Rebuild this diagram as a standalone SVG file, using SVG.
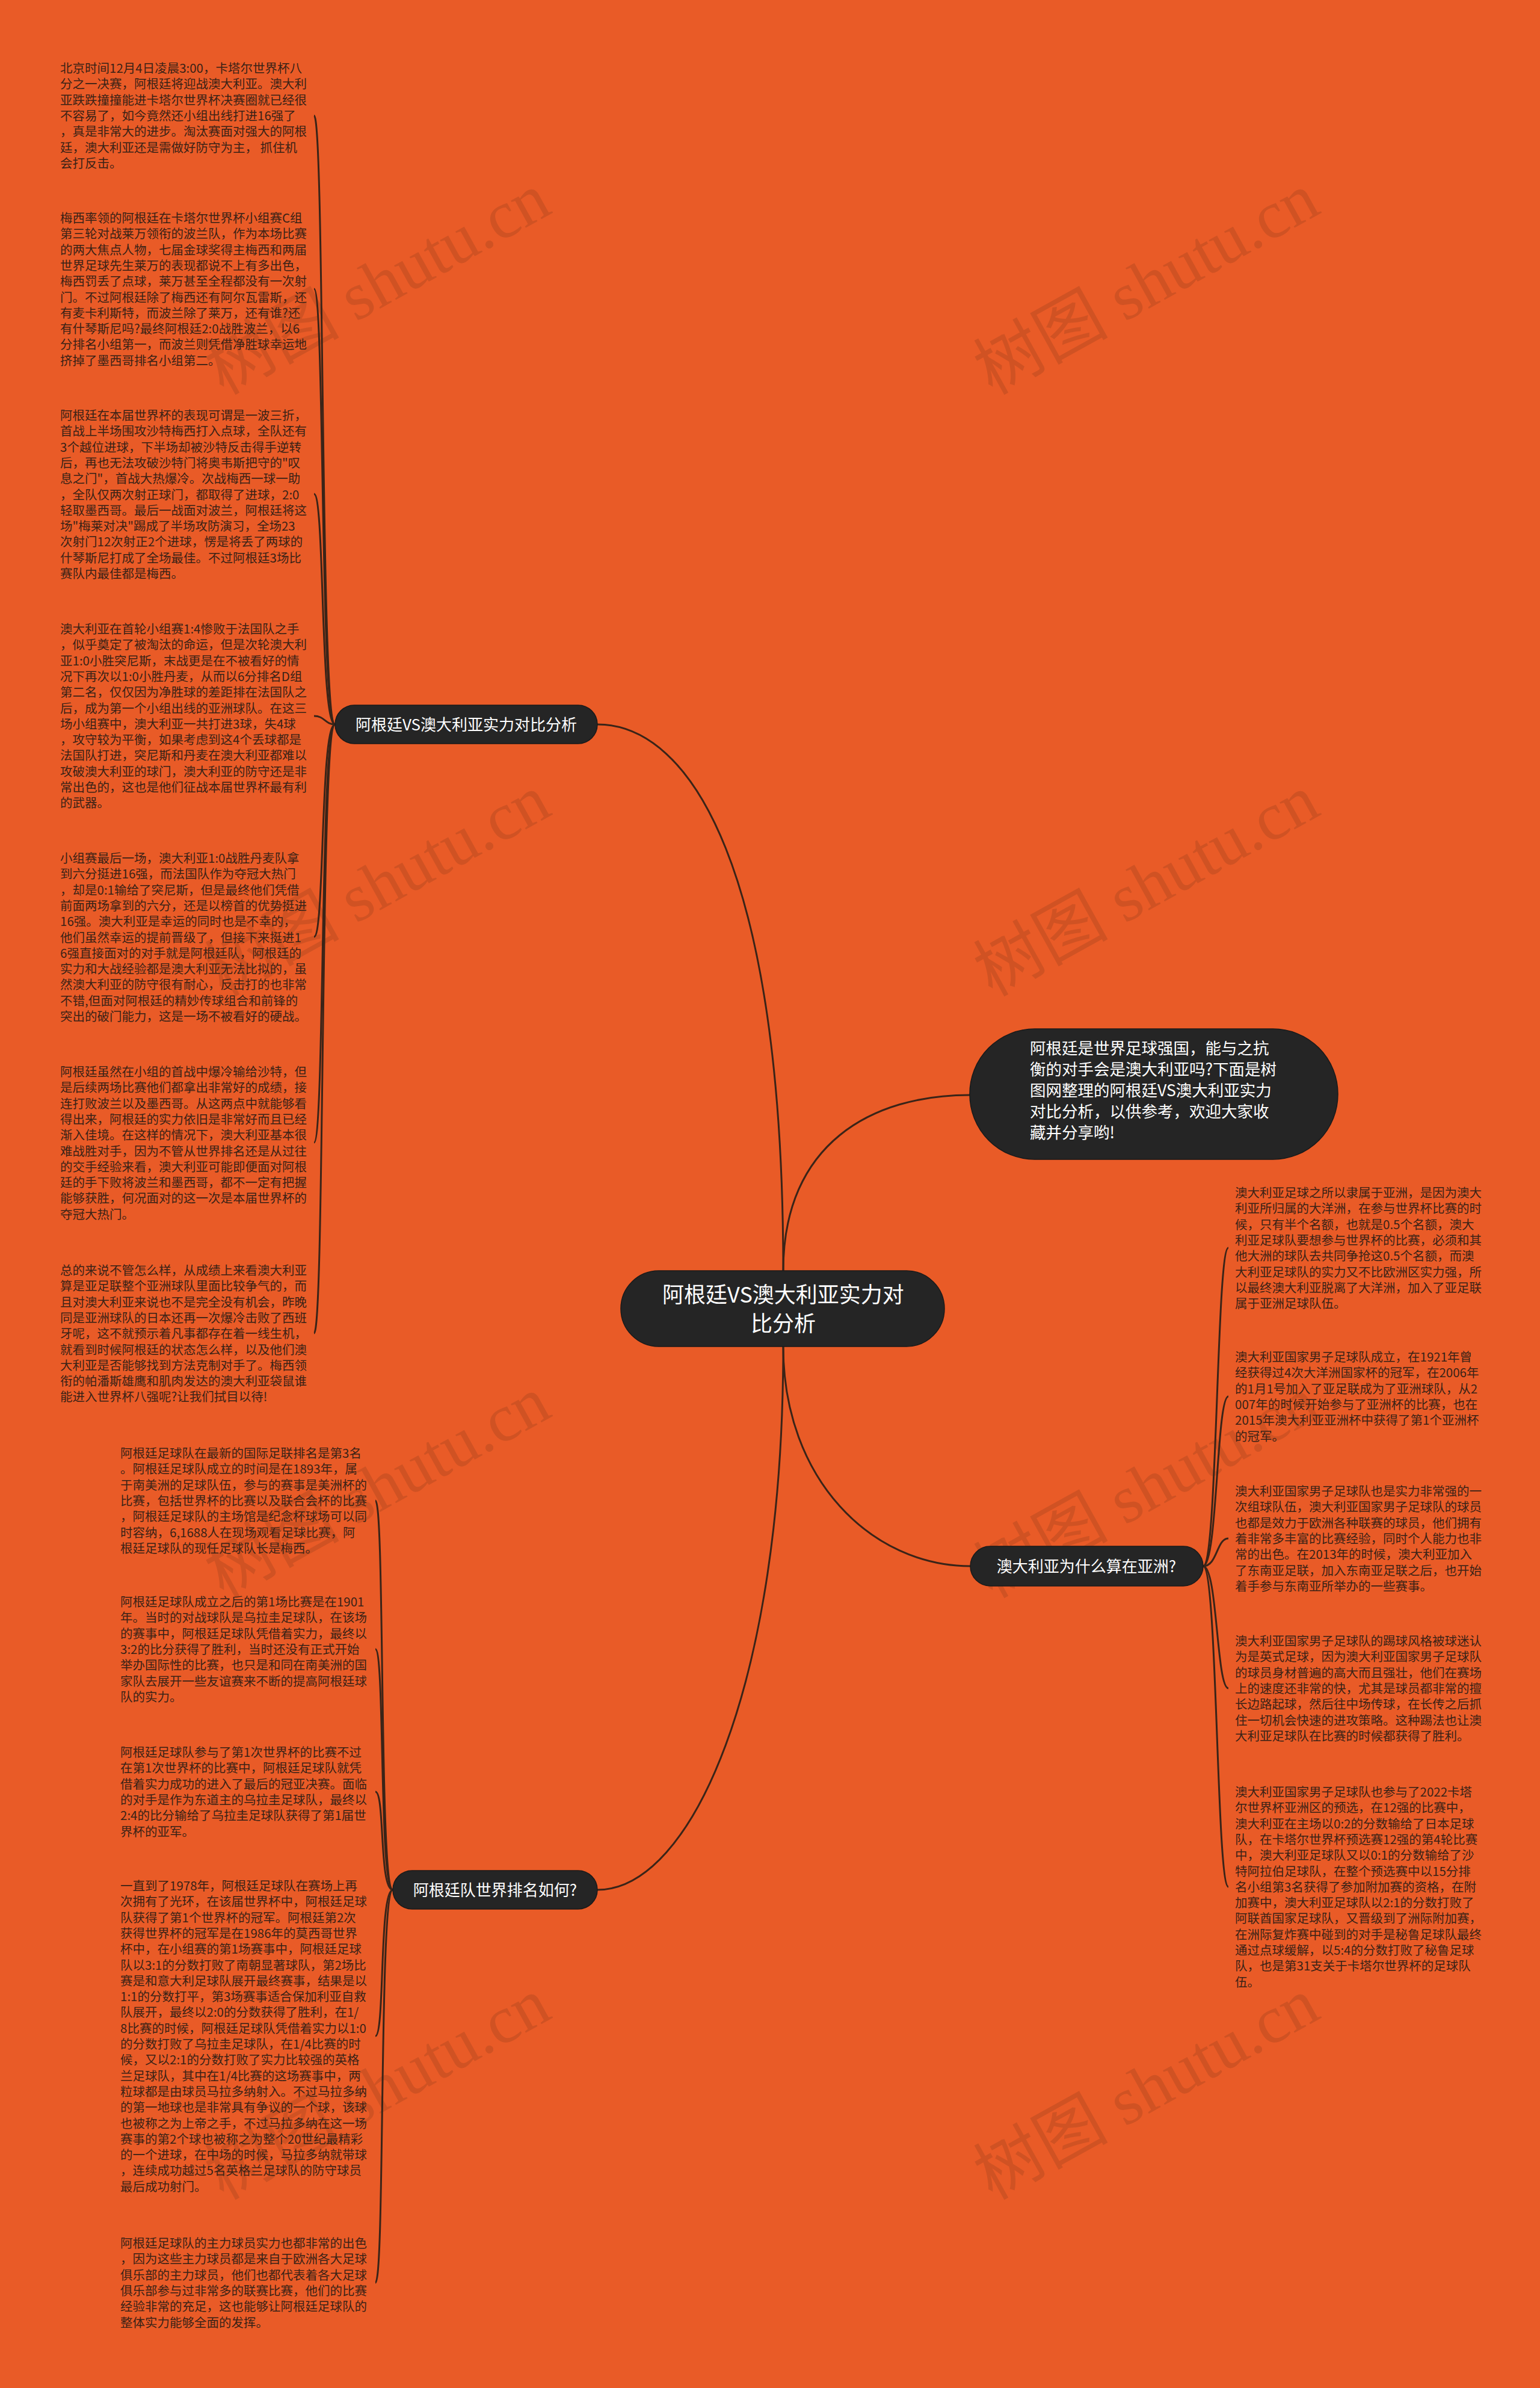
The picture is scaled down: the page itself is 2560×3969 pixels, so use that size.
<svg xmlns="http://www.w3.org/2000/svg" width="2560" height="3969" viewBox="0 0 2560 3969">
<style>
.leaf{font-family:"Noto Sans CJK SC","Liberation Sans",sans-serif;font-size:20.5px;fill:#3a2216}
.pill{fill:#252525;stroke:#1a1a1a;stroke-width:1.5}
.wt{font-family:"Noto Sans CJK SC","Liberation Sans",sans-serif;fill:#ffffff}
.lbl{font-family:"Noto Sans CJK SC","Liberation Sans",sans-serif;font-size:26px;fill:#ffffff;text-anchor:middle}
.con{fill:none;stroke:#3a2418;stroke-width:3}
.wm{font-family:"Liberation Serif","Noto Sans CJK SC",serif;font-size:112px;fill:#7a3418;opacity:0.22;text-anchor:middle}
</style>
<rect x="0" y="0" width="2560" height="3969" fill="#E95B27"/>

<g id="watermarks">
<text class="wm" transform="translate(646,505) rotate(-29)">树图 shutu.cn</text>
<text class="wm" transform="translate(1924,505) rotate(-29)">树图 shutu.cn</text>
<text class="wm" transform="translate(646,1505) rotate(-29)">树图 shutu.cn</text>
<text class="wm" transform="translate(1924,1505) rotate(-29)">树图 shutu.cn</text>
<text class="wm" transform="translate(646,2505) rotate(-29)">树图 shutu.cn</text>
<text class="wm" transform="translate(1924,2505) rotate(-29)">树图 shutu.cn</text>
<text class="wm" transform="translate(646,3505) rotate(-29)">树图 shutu.cn</text>
<text class="wm" transform="translate(1924,3505) rotate(-29)">树图 shutu.cn</text>
</g>

<g id="connectors">
<path class="con" d="M1302 2112 C1302 1450 1150 1204 993 1204"/>
<path class="con" d="M1302 2112 C1302 1900 1450 1820 1612 1820"/>
<path class="con" d="M1302 2238 C1302 2460 1450 2603 1613 2603"/>
<path class="con" d="M1302 2238 C1302 2800 1150 3141 993 3141"/>

<path class="con" d="M557 1204 C532 1204 540 192 522 192"/>
<path class="con" d="M557 1204 C532 1204 540 480 522 480"/>
<path class="con" d="M557 1204 C532 1204 540 821 522 821"/>
<path class="con" d="M557 1204 C540 1204 540 1190 522 1190"/>
<path class="con" d="M557 1204 C532 1204 540 1557 522 1557"/>
<path class="con" d="M557 1204 C532 1204 540 1899 522 1899"/>
<path class="con" d="M557 1204 C532 1204 540 2216 522 2216"/>

<path class="con" d="M653 3141 C630 3141 640 2494 624 2494"/>
<path class="con" d="M653 3141 C630 3141 640 2741 624 2741"/>
<path class="con" d="M653 3141 C630 3141 640 2978 624 2978"/>
<path class="con" d="M653 3141 C630 3141 640 3384 624 3384"/>
<path class="con" d="M653 3141 C630 3141 640 3794 624 3794"/>

<path class="con" d="M2000 2603 C2024 2603 2022 2074 2042 2074"/>
<path class="con" d="M2000 2603 C2024 2603 2022 2321 2042 2321"/>
<path class="con" d="M2000 2603 C2024 2603 2022 2557 2042 2557"/>
<path class="con" d="M2000 2603 C2024 2603 2022 2806 2042 2806"/>
<path class="con" d="M2000 2603 C2024 2603 2022 3136 2042 3136"/>
</g>

<g id="root">
<rect class="pill" x="1032" y="2112" width="538" height="126" rx="63"/>
<text class="wt" font-size="36" text-anchor="middle"><tspan x="1302" y="2165">阿根廷VS澳大利亚实力对</tspan><tspan x="1302" y="2213">比分析</tspan></text>
</g>

<g id="intro">
<rect class="pill" x="1612" y="1710" width="612" height="217" rx="108"/>
<text class="wt" font-size="26.5"><tspan x="1712" y="1752">阿根廷是世界足球强国，能与之抗</tspan><tspan x="1712" y="1787">衡的对手会是澳大利亚吗?下面是树</tspan><tspan x="1712" y="1822">图网整理的阿根廷VS澳大利亚实力</tspan><tspan x="1712" y="1857">对比分析，以供参考，欢迎大家收</tspan><tspan x="1712" y="1892">藏并分享哟!</tspan></text>
</g>

<g id="branch-analysis">
<rect class="pill" x="557" y="1172" width="436" height="64" rx="32"/>
<text class="lbl" x="775" y="1214">阿根廷VS澳大利亚实力对比分析</text>
</g>

<g id="branch-asia">
<rect class="pill" x="1613" y="2570" width="387" height="66" rx="33"/>
<text class="lbl" x="1806" y="2613">澳大利亚为什么算在亚洲?</text>
</g>

<g id="branch-ranking">
<rect class="pill" x="653" y="3109" width="340" height="64" rx="32"/>
<text class="lbl" x="823" y="3151">阿根廷队世界排名如何?</text>
</g>

<g id="leaf-a1">
<text class="leaf" y="121"><tspan x="100">北京时间12月4日凌晨3:00，卡塔尔世界杯八</tspan><tspan x="100" dy="26.3">分之一决赛，阿根廷将迎战澳大利亚。澳大利</tspan><tspan x="100" dy="26.3">亚跌跌撞撞能进卡塔尔世界杯决赛圈就已经很</tspan><tspan x="100" dy="26.3">不容易了，如今竟然还小组出线打进16强了</tspan><tspan x="100" dy="26.3">，真是非常大的进步。淘汰赛面对强大的阿根</tspan><tspan x="100" dy="26.3">廷，澳大利亚还是需做好防守为主， 抓住机</tspan><tspan x="100" dy="26.3">会打反击。</tspan></text>
</g>
<g id="leaf-a2">
<text class="leaf" y="370"><tspan x="100">梅西率领的阿根廷在卡塔尔世界杯小组赛C组</tspan><tspan x="100" dy="26.3">第三轮对战莱万领衔的波兰队，作为本场比赛</tspan><tspan x="100" dy="26.3">的两大焦点人物，七届金球奖得主梅西和两届</tspan><tspan x="100" dy="26.3">世界足球先生莱万的表现都说不上有多出色，</tspan><tspan x="100" dy="26.3">梅西罚丢了点球，莱万甚至全程都没有一次射</tspan><tspan x="100" dy="26.3">门。不过阿根廷除了梅西还有阿尔瓦雷斯，还</tspan><tspan x="100" dy="26.3">有麦卡利斯特，而波兰除了莱万，还有谁?还</tspan><tspan x="100" dy="26.3">有什琴斯尼吗?最终阿根廷2:0战胜波兰，以6</tspan><tspan x="100" dy="26.3">分排名小组第一，而波兰则凭借净胜球幸运地</tspan><tspan x="100" dy="26.3">挤掉了墨西哥排名小组第二。</tspan></text>
</g>
<g id="leaf-a3">
<text class="leaf" y="698"><tspan x="100">阿根廷在本届世界杯的表现可谓是一波三折，</tspan><tspan x="100" dy="26.3">首战上半场围攻沙特梅西打入点球，全队还有</tspan><tspan x="100" dy="26.3">3个越位进球，下半场却被沙特反击得手逆转</tspan><tspan x="100" dy="26.3">后，再也无法攻破沙特门将奥韦斯把守的"叹</tspan><tspan x="100" dy="26.3">息之门"，首战大热爆冷。次战梅西一球一助</tspan><tspan x="100" dy="26.3">，全队仅两次射正球门，都取得了进球，2:0</tspan><tspan x="100" dy="26.3">轻取墨西哥。最后一战面对波兰，阿根廷将这</tspan><tspan x="100" dy="26.3">场"梅莱对决"踢成了半场攻防演习，全场23</tspan><tspan x="100" dy="26.3">次射门12次射正2个进球，愣是将丢了两球的</tspan><tspan x="100" dy="26.3">什琴斯尼打成了全场最佳。不过阿根廷3场比</tspan><tspan x="100" dy="26.3">赛队内最佳都是梅西。</tspan></text>
</g>
<g id="leaf-a4">
<text class="leaf" y="1053"><tspan x="100">澳大利亚在首轮小组赛1:4惨败于法国队之手</tspan><tspan x="100" dy="26.3">，似乎奠定了被淘汰的命运，但是次轮澳大利</tspan><tspan x="100" dy="26.3">亚1:0小胜突尼斯，末战更是在不被看好的情</tspan><tspan x="100" dy="26.3">况下再次以1:0小胜丹麦，从而以6分排名D组</tspan><tspan x="100" dy="26.3">第二名，仅仅因为净胜球的差距排在法国队之</tspan><tspan x="100" dy="26.3">后，成为第一个小组出线的亚洲球队。在这三</tspan><tspan x="100" dy="26.3">场小组赛中，澳大利亚一共打进3球，失4球</tspan><tspan x="100" dy="26.3">，攻守较为平衡，如果考虑到这4个丢球都是</tspan><tspan x="100" dy="26.3">法国队打进，突尼斯和丹麦在澳大利亚都难以</tspan><tspan x="100" dy="26.3">攻破澳大利亚的球门，澳大利亚的防守还是非</tspan><tspan x="100" dy="26.3">常出色的，这也是他们征战本届世界杯最有利</tspan><tspan x="100" dy="26.3">的武器。</tspan></text>
</g>
<g id="leaf-a5">
<text class="leaf" y="1434"><tspan x="100">小组赛最后一场，澳大利亚1:0战胜丹麦队拿</tspan><tspan x="100" dy="26.3">到六分挺进16强，而法国队作为夺冠大热门</tspan><tspan x="100" dy="26.3">，却是0:1输给了突尼斯，但是最终他们凭借</tspan><tspan x="100" dy="26.3">前面两场拿到的六分，还是以榜首的优势挺进</tspan><tspan x="100" dy="26.3">16强。澳大利亚是幸运的同时也是不幸的，</tspan><tspan x="100" dy="26.3">他们虽然幸运的提前晋级了，但接下来挺进1</tspan><tspan x="100" dy="26.3">6强直接面对的对手就是阿根廷队，阿根廷的</tspan><tspan x="100" dy="26.3">实力和大战经验都是澳大利亚无法比拟的，虽</tspan><tspan x="100" dy="26.3">然澳大利亚的防守很有耐心，反击打的也非常</tspan><tspan x="100" dy="26.3">不错,但面对阿根廷的精妙传球组合和前锋的</tspan><tspan x="100" dy="26.3">突出的破门能力，这是一场不被看好的硬战。</tspan></text>
</g>
<g id="leaf-a6">
<text class="leaf" y="1789"><tspan x="100">阿根廷虽然在小组的首战中爆冷输给沙特，但</tspan><tspan x="100" dy="26.3">是后续两场比赛他们都拿出非常好的成绩，接</tspan><tspan x="100" dy="26.3">连打败波兰以及墨西哥。从这两点中就能够看</tspan><tspan x="100" dy="26.3">得出来，阿根廷的实力依旧是非常好而且已经</tspan><tspan x="100" dy="26.3">渐入佳境。在这样的情况下，澳大利亚基本很</tspan><tspan x="100" dy="26.3">难战胜对手，因为不管从世界排名还是从过往</tspan><tspan x="100" dy="26.3">的交手经验来看，澳大利亚可能即便面对阿根</tspan><tspan x="100" dy="26.3">廷的手下败将波兰和墨西哥，都不一定有把握</tspan><tspan x="100" dy="26.3">能够获胜，何况面对的这一次是本届世界杯的</tspan><tspan x="100" dy="26.3">夺冠大热门。</tspan></text>
</g>
<g id="leaf-a7">
<text class="leaf" y="2119"><tspan x="100">总的来说不管怎么样，从成绩上来看澳大利亚</tspan><tspan x="100" dy="26.3">算是亚足联整个亚洲球队里面比较争气的，而</tspan><tspan x="100" dy="26.3">且对澳大利亚来说也不是完全没有机会，昨晚</tspan><tspan x="100" dy="26.3">同是亚洲球队的日本还再一次爆冷击败了西班</tspan><tspan x="100" dy="26.3">牙呢，这不就预示着凡事都存在着一线生机，</tspan><tspan x="100" dy="26.3">就看到时候阿根廷的状态怎么样，以及他们澳</tspan><tspan x="100" dy="26.3">大利亚是否能够找到方法克制对手了。梅西领</tspan><tspan x="100" dy="26.3">衔的帕潘斯雄鹰和肌肉发达的澳大利亚袋鼠谁</tspan><tspan x="100" dy="26.3">能进入世界杯八强呢?让我们拭目以待!</tspan></text>
</g>

<g id="leaf-c1">
<text class="leaf" y="2423"><tspan x="200">阿根廷足球队在最新的国际足联排名是第3名</tspan><tspan x="200" dy="26.3">。阿根廷足球队成立的时间是在1893年，属</tspan><tspan x="200" dy="26.3">于南美洲的足球队伍，参与的赛事是美洲杯的</tspan><tspan x="200" dy="26.3">比赛，包括世界杯的比赛以及联合会杯的比赛</tspan><tspan x="200" dy="26.3">，阿根廷足球队的主场馆是纪念杯球场可以同</tspan><tspan x="200" dy="26.3">时容纳，6,1688人在现场观看足球比赛，阿</tspan><tspan x="200" dy="26.3">根廷足球队的现任足球队长是梅西。</tspan></text>
</g>
<g id="leaf-c2">
<text class="leaf" y="2670"><tspan x="200">阿根廷足球队成立之后的第1场比赛是在1901</tspan><tspan x="200" dy="26.3">年。当时的对战球队是乌拉圭足球队，在该场</tspan><tspan x="200" dy="26.3">的赛事中，阿根廷足球队凭借着实力，最终以</tspan><tspan x="200" dy="26.3">3:2的比分获得了胜利，当时还没有正式开始</tspan><tspan x="200" dy="26.3">举办国际性的比赛，也只是和同在南美洲的国</tspan><tspan x="200" dy="26.3">家队去展开一些友谊赛来不断的提高阿根廷球</tspan><tspan x="200" dy="26.3">队的实力。</tspan></text>
</g>
<g id="leaf-c3">
<text class="leaf" y="2920"><tspan x="200">阿根廷足球队参与了第1次世界杯的比赛不过</tspan><tspan x="200" dy="26.3">在第1次世界杯的比赛中，阿根廷足球队就凭</tspan><tspan x="200" dy="26.3">借着实力成功的进入了最后的冠亚决赛。面临</tspan><tspan x="200" dy="26.3">的对手是作为东道主的乌拉圭足球队，最终以</tspan><tspan x="200" dy="26.3">2:4的比分输给了乌拉圭足球队获得了第1届世</tspan><tspan x="200" dy="26.3">界杯的亚军。</tspan></text>
</g>
<g id="leaf-c4">
<text class="leaf" y="3142"><tspan x="200">一直到了1978年，阿根廷足球队在赛场上再</tspan><tspan x="200" dy="26.3">次拥有了光环，在该届世界杯中，阿根廷足球</tspan><tspan x="200" dy="26.3">队获得了第1个世界杯的冠军。阿根廷第2次</tspan><tspan x="200" dy="26.3">获得世界杯的冠军是在1986年的莫西哥世界</tspan><tspan x="200" dy="26.3">杯中，在小组赛的第1场赛事中，阿根廷足球</tspan><tspan x="200" dy="26.3">队以3:1的分数打败了南朝显著球队，第2场比</tspan><tspan x="200" dy="26.3">赛是和意大利足球队展开最终赛事，结果是以</tspan><tspan x="200" dy="26.3">1:1的分数打平，第3场赛事适合保加利亚自救</tspan><tspan x="200" dy="26.3">队展开，最终以2:0的分数获得了胜利，在1/</tspan><tspan x="200" dy="26.3">8比赛的时候，阿根廷足球队凭借着实力以1:0</tspan><tspan x="200" dy="26.3">的分数打败了乌拉圭足球队，在1/4比赛的时</tspan><tspan x="200" dy="26.3">候，又以2:1的分数打败了实力比较强的英格</tspan><tspan x="200" dy="26.3">兰足球队，其中在1/4比赛的这场赛事中，两</tspan><tspan x="200" dy="26.3">粒球都是由球员马拉多纳射入。不过马拉多纳</tspan><tspan x="200" dy="26.3">的第一地球也是非常具有争议的一个球，该球</tspan><tspan x="200" dy="26.3">也被称之为上帝之手，不过马拉多纳在这一场</tspan><tspan x="200" dy="26.3">赛事的第2个球也被称之为整个20世纪最精彩</tspan><tspan x="200" dy="26.3">的一个进球，在中场的时候，马拉多纳就带球</tspan><tspan x="200" dy="26.3">，连续成功越过5名英格兰足球队的防守球员</tspan><tspan x="200" dy="26.3">最后成功射门。</tspan></text>
</g>
<g id="leaf-c5">
<text class="leaf" y="3736"><tspan x="200">阿根廷足球队的主力球员实力也都非常的出色</tspan><tspan x="200" dy="26.3">，因为这些主力球员都是来自于欧洲各大足球</tspan><tspan x="200" dy="26.3">俱乐部的主力球员，他们也都代表着各大足球</tspan><tspan x="200" dy="26.3">俱乐部参与过非常多的联赛比赛，他们的比赛</tspan><tspan x="200" dy="26.3">经验非常的充足，这也能够让阿根廷足球队的</tspan><tspan x="200" dy="26.3">整体实力能够全面的发挥。</tspan></text>
</g>

<g id="leaf-r1">
<text class="leaf" y="1990"><tspan x="2053">澳大利亚足球之所以隶属于亚洲，是因为澳大</tspan><tspan x="2053" dy="26.3">利亚所归属的大洋洲，在参与世界杯比赛的时</tspan><tspan x="2053" dy="26.3">候，只有半个名额，也就是0.5个名额，澳大</tspan><tspan x="2053" dy="26.3">利亚足球队要想参与世界杯的比赛，必须和其</tspan><tspan x="2053" dy="26.3">他大洲的球队去共同争抢这0.5个名额，而澳</tspan><tspan x="2053" dy="26.3">大利亚足球队的实力又不比欧洲区实力强，所</tspan><tspan x="2053" dy="26.3">以最终澳大利亚脱离了大洋洲，加入了亚足联</tspan><tspan x="2053" dy="26.3">属于亚洲足球队伍。</tspan></text>
</g>
<g id="leaf-r2">
<text class="leaf" y="2263"><tspan x="2053">澳大利亚国家男子足球队成立，在1921年曾</tspan><tspan x="2053" dy="26.3">经获得过4次大洋洲国家杯的冠军，在2006年</tspan><tspan x="2053" dy="26.3">的1月1号加入了亚足联成为了亚洲球队，从2</tspan><tspan x="2053" dy="26.3">007年的时候开始参与了亚洲杯的比赛，也在</tspan><tspan x="2053" dy="26.3">2015年澳大利亚亚洲杯中获得了第1个亚洲杯</tspan><tspan x="2053" dy="26.3">的冠军。</tspan></text>
</g>
<g id="leaf-r3">
<text class="leaf" y="2486"><tspan x="2053">澳大利亚国家男子足球队也是实力非常强的一</tspan><tspan x="2053" dy="26.3">次组球队伍，澳大利亚国家男子足球队的球员</tspan><tspan x="2053" dy="26.3">也都是效力于欧洲各种联赛的球员，他们拥有</tspan><tspan x="2053" dy="26.3">着非常多丰富的比赛经验，同时个人能力也非</tspan><tspan x="2053" dy="26.3">常的出色。在2013年的时候，澳大利亚加入</tspan><tspan x="2053" dy="26.3">了东南亚足联，加入东南亚足联之后，也开始</tspan><tspan x="2053" dy="26.3">着手参与东南亚所举办的一些赛事。</tspan></text>
</g>
<g id="leaf-r4">
<text class="leaf" y="2735"><tspan x="2053">澳大利亚国家男子足球队的踢球风格被球迷认</tspan><tspan x="2053" dy="26.3">为是英式足球，因为澳大利亚国家男子足球队</tspan><tspan x="2053" dy="26.3">的球员身材普遍的高大而且强壮，他们在赛场</tspan><tspan x="2053" dy="26.3">上的速度还非常的快，尤其是球员都非常的擅</tspan><tspan x="2053" dy="26.3">长边路起球，然后往中场传球，在长传之后抓</tspan><tspan x="2053" dy="26.3">住一切机会快速的进攻策略。这种踢法也让澳</tspan><tspan x="2053" dy="26.3">大利亚足球队在比赛的时候都获得了胜利。</tspan></text>
</g>
<g id="leaf-r5">
<text class="leaf" y="2986"><tspan x="2053">澳大利亚国家男子足球队也参与了2022卡塔</tspan><tspan x="2053" dy="26.3">尔世界杯亚洲区的预选，在12强的比赛中，</tspan><tspan x="2053" dy="26.3">澳大利亚在主场以0:2的分数输给了日本足球</tspan><tspan x="2053" dy="26.3">队，在卡塔尔世界杯预选赛12强的第4轮比赛</tspan><tspan x="2053" dy="26.3">中，澳大利亚足球队又以0:1的分数输给了沙</tspan><tspan x="2053" dy="26.3">特阿拉伯足球队，在整个预选赛中以15分排</tspan><tspan x="2053" dy="26.3">名小组第3名获得了参加附加赛的资格，在附</tspan><tspan x="2053" dy="26.3">加赛中，澳大利亚足球队以2:1的分数打败了</tspan><tspan x="2053" dy="26.3">阿联酋国家足球队，又晋级到了洲际附加赛，</tspan><tspan x="2053" dy="26.3">在洲际复炸赛中碰到的对手是秘鲁足球队最终</tspan><tspan x="2053" dy="26.3">通过点球缓解，以5:4的分数打败了秘鲁足球</tspan><tspan x="2053" dy="26.3">队，也是第31支关于卡塔尔世界杯的足球队</tspan><tspan x="2053" dy="26.3">伍。</tspan></text>
</g>
</svg>
